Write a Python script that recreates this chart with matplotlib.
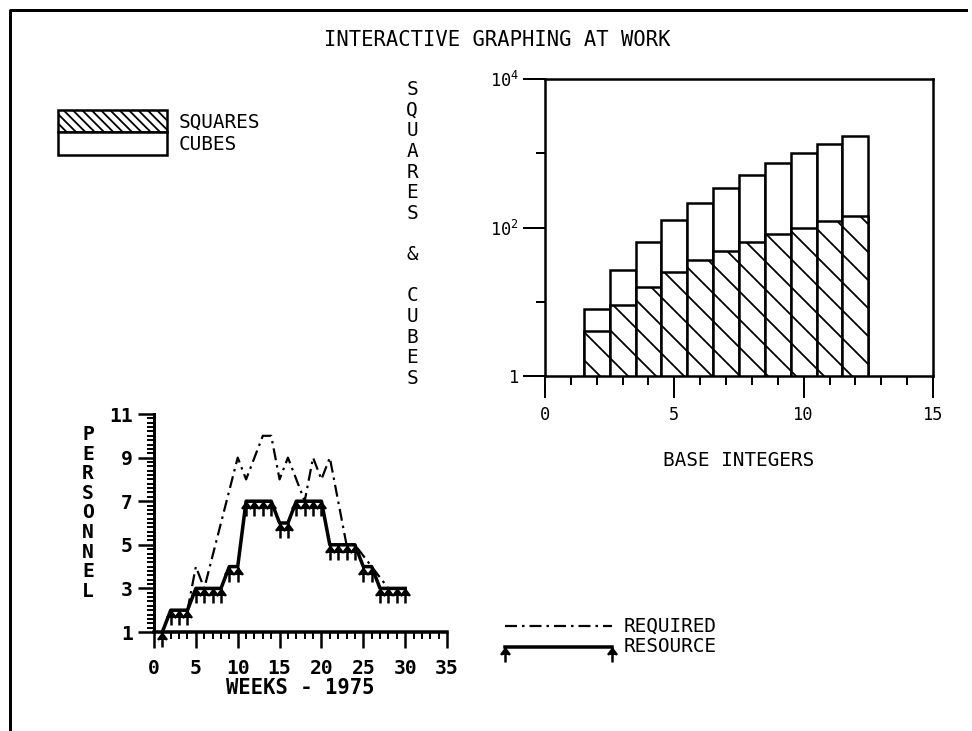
import matplotlib
matplotlib.use('Agg')
import matplotlib.pyplot as plt
from matplotlib.path import Path
from matplotlib.lines import Line2D
from matplotlib.patches import Rectangle
from matplotlib.ticker import FixedLocator, MultipleLocator

# ── data ──
base_integers = [2, 3, 4, 5, 6, 7, 8, 9, 10, 11, 12]
squares = [4, 9, 16, 25, 36, 49, 64, 81, 100, 121, 144]
cubes = [8, 27, 64, 125, 216, 343, 512, 729, 1000, 1331, 1728]

weeks_resource = [1, 2, 3, 4, 5, 6, 7, 8, 9, 10, 11, 12, 13, 14, 15,
                  16, 17, 18, 19, 20, 21, 22, 23, 24, 25, 26, 27, 28, 29, 30]
resource = [1, 2, 2, 2, 3, 3, 3, 3, 4, 4, 7, 7, 7, 7, 6,
            6, 7, 7, 7, 7, 5, 5, 5, 5, 4, 4, 3, 3, 3, 3]
weeks_required = [4, 5, 6, 10, 11, 13, 14, 15, 16, 18, 19, 20, 21, 23, 24, 26, 28]
required = [2, 4, 3, 9, 8, 10, 10, 8, 9, 7, 9, 8, 9, 5, 5, 4, 3]

# ── page setup (hatch spacing is tied to the dpi, so work in pixels) ──
DPI = 168
W, H = 972, 731
PT = 72 / DPI   # points per pixel


def fx(x):
    return x / W


def fy(y):
    return 1 - y / H


plt.rcParams['font.family'] = ['DejaVu Sans Mono']
plt.rcParams['mathtext.default'] = 'regular'
plt.rcParams['hatch.linewidth'] = 1.8 * PT
plt.rcParams['lines.scale_dashes'] = False

TXT = 8.3       # plain labels
TICK = 7.3      # bar chart tick labels
BOLD = 8.4      # personnel chart labels

fig = plt.figure(figsize=(W / DPI, H / DPI), dpi=DPI, facecolor='white')

# resource marker: short stem hanging below the point with an up-arrow head
arrow = Path([(0, 0), (0, -1), (-0.3, -0.5), (0, -0.1), (0.3, -0.5)],
             [Path.MOVETO, Path.LINETO, Path.MOVETO, Path.LINETO, Path.LINETO])
ARROW_MS = 2 * 15 * PT

dashdot = (0, (12 * PT, 5 * PT, 2.5 * PT, 5 * PT))

# page frame
fig.add_artist(Line2D([fx(10), fx(10), fx(966)], [fy(731), fy(10), fy(10)],
                      transform=fig.transFigure, color='k', lw=3 * PT))

fig.text(fx(497), fy(40), 'INTERACTIVE GRAPHING AT WORK',
         ha='center', va='center', fontsize=8.8)

# ── squares & cubes bar chart ──
ax1 = fig.add_axes([fx(545), fy(376), (933 - 545) / W, (376 - 79) / H])
ax1.bar(base_integers, cubes, width=1, log=True, facecolor='white',
        edgecolor='k', linewidth=2.5 * PT)
ax1.bar(base_integers, squares, width=1, log=True, facecolor='white',
        edgecolor='k', linewidth=2.5 * PT, hatch='\\\\')
ax1.set_xlim(0, 15)
ax1.set_ylim(1, 1e4)
ax1.xaxis.set_major_locator(FixedLocator([0, 5, 10, 15]))
ax1.xaxis.set_minor_locator(MultipleLocator(1))
ax1.set_xticklabels(['0', '5', '10', '15'])
ax1.yaxis.set_major_locator(FixedLocator([1, 1e2, 1e4]))
ax1.yaxis.set_minor_locator(FixedLocator([10, 1e3]))
ax1.set_yticklabels(['1', '10$^2$', '10$^4$'])
ax1.yaxis.set_minor_formatter(plt.NullFormatter())
ax1.tick_params(which='major', direction='out', length=22 * PT, width=2 * PT,
                labelsize=TICK)
ax1.tick_params(which='minor', direction='out', length=9 * PT, width=2 * PT)
ax1.tick_params(axis='x', which='major', pad=8 * PT)
ax1.tick_params(axis='y', which='major', pad=4 * PT)
for sp in ax1.spines.values():
    sp.set_linewidth(2.5 * PT)
ax1.set_xlabel('BASE INTEGERS', fontsize=TXT, va='center')
ax1.xaxis.set_label_coords(0.5, -(460 - 376) / 297)
ax1.set_ylabel('\n'.join('SQUARES & CUBES'), rotation=0, fontsize=TXT,
               ha='center', va='center', linespacing=1.11)
ax1.yaxis.set_label_coords((412 - 545) / 388, (376 - 234) / 297)

# legend for the bars
fig.add_artist(Rectangle((fx(58), fy(132)), (167 - 58) / W, (132 - 110) / H,
                         transform=fig.transFigure, facecolor='white',
                         edgecolor='k', lw=2.5 * PT, hatch='\\' * 6))
fig.add_artist(Rectangle((fx(58), fy(155)), (167 - 58) / W, (155 - 132) / H,
                         transform=fig.transFigure, facecolor='white',
                         edgecolor='k', lw=2.5 * PT))
fig.text(fx(179), fy(122), 'SQUARES', ha='left', va='center', fontsize=TXT)
fig.text(fx(179), fy(144), 'CUBES', ha='left', va='center', fontsize=TXT)

# ── personnel chart ──
ax2 = fig.add_axes([fx(154), fy(632), (447 - 154) / W, (632 - 414) / H])
ax2.plot(weeks_required, required, color='k', lw=2.2 * PT, linestyle=dashdot)
ax2.plot(weeks_resource, resource, color='k', lw=3.5 * PT, marker=arrow,
         ms=ARROW_MS, mew=2.5 * PT, mfc='k', mec='k', clip_on=False)
ax2.set_xlim(0, 35)
ax2.set_ylim(1, 11)
ax2.spines['top'].set_visible(False)
ax2.spines['right'].set_visible(False)
ax2.spines['bottom'].set_linewidth(3.5 * PT)
ax2.spines['left'].set_linewidth(3 * PT)
ax2.xaxis.set_major_locator(MultipleLocator(5))
ax2.xaxis.set_minor_locator(MultipleLocator(1))
ax2.yaxis.set_major_locator(FixedLocator([1, 3, 5, 7, 9, 11]))
ax2.yaxis.set_minor_locator(MultipleLocator(0.2))
ax2.tick_params(which='major', direction='out', length=16 * PT, width=2.5 * PT,
                labelsize=BOLD)
ax2.tick_params(which='minor', direction='out', length=7 * PT, width=2 * PT)
ax2.tick_params(axis='x', which='major', pad=11 * PT)
ax2.tick_params(axis='y', which='major', pad=5 * PT)
for lab in ax2.get_xticklabels() + ax2.get_yticklabels():
    lab.set_fontweight('bold')
ax2.set_xlabel('WEEKS - 1975', fontsize=8.8, fontweight='bold', va='center')
ax2.xaxis.set_label_coords(0.5, -(688 - 632) / 218)
ax2.set_ylabel('\n'.join('PERSONNEL'), rotation=0, fontsize=BOLD,
               fontweight='bold', ha='center', va='center', linespacing=1.04)
ax2.yaxis.set_label_coords((88 - 154) / 293, (632 - 513) / 218)

# legend for the personnel lines
fig.add_artist(Line2D([fx(505), fx(612)], [fy(626), fy(626)],
                      transform=fig.transFigure, color='k', lw=2.2 * PT,
                      linestyle=dashdot))
fig.add_artist(Line2D([fx(505), fx(612)], [fy(647), fy(647)],
                      transform=fig.transFigure, color='k', lw=3.5 * PT,
                      marker=arrow, ms=ARROW_MS, mew=2.5 * PT, mfc='k', mec='k'))
fig.text(fx(624), fy(626), 'REQUIRED', ha='left', va='center', fontsize=TXT)
fig.text(fx(624), fy(647), 'RESOURCE', ha='left', va='center', fontsize=TXT)

fig.savefig('out.png', dpi=DPI, facecolor='white')
